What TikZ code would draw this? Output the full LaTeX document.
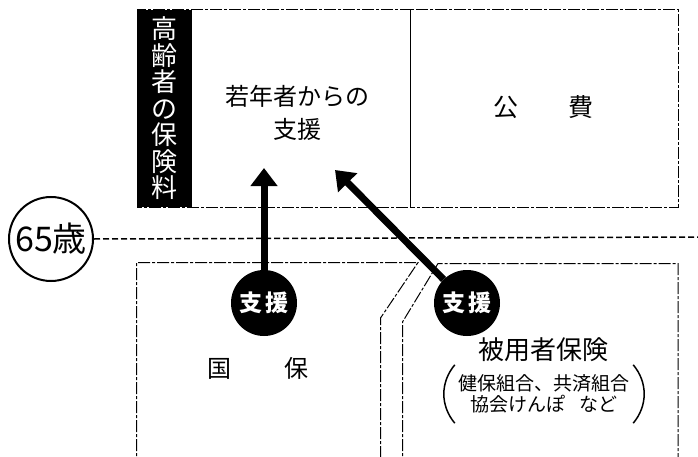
\documentclass[tikz,border=0pt]{standalone}
\usepackage{fontspec}
\setmainfont{Noto Sans CJK JP}
\usetikzlibrary{arrows.meta}

\begin{document}
\begin{tikzpicture}[x=1pt,y=-1pt,
    box/.style={draw,line width=1pt,dash pattern=on 12pt off 2pt on 3pt off 2pt},
    shien/.style={circle,fill=black,text=white,minimum size=66pt,inner sep=0pt,font=\fontsize{23}{23}\selectfont\bfseries},
    support/.style={line width=7pt,-{Triangle[width=26pt,length=18pt]}},
    label/.style={font=\fontsize{24}{33}\selectfont,align=center}]
    \useasboundingbox (0,0) rectangle (698,457);

    \draw[box] (137,10) rectangle (410,207);
    \draw[box] (410,10) rectangle (678,207);
    \draw[box] (136.5,470) -- (136.5,262.5) -- (418,262.5) -- (380.5,318) -- (380.5,470);
    \draw[box] (402.5,470) -- (402.5,322) -- (438,263.5) -- (678,263.5) -- (678,470);

    \node[fill=black,text=white,minimum width=55pt,minimum height=197pt,inner sep=0pt,align=center,font=\fontsize{26}{26.5}\selectfont] (hoken) at (164.5,108.5) {高\\齢\\者\\の\\保\\険\\料};
    \node[label] (jakunen) at (297,113) {若年者からの\\支援};
    \node[label,font=\fontsize{25}{25}\selectfont] (kouhi) at (543,107) {公\hspace{50pt}費};
    \node[label,font=\fontsize{24}{24}\selectfont] (kokuho) at (258,368) {国\hspace{53pt}保};
    \node[label,font=\fontsize{26}{26}\selectfont] (hiyou) at (543,350) {被用者保険};
    \node[label,font=\fontsize{19}{21}\selectfont,minimum width=178pt,minimum height=58pt,inner sep=0pt] (kumiai) at (544,394) {健保組合、共済組合\\協会けんぽ\hspace{0.75em}など};
    \draw[line width=1.5pt] (kumiai.north west) to[bend right=40] (kumiai.south west);
    \draw[line width=1.5pt] (kumiai.north east) to[bend left=40] (kumiai.south east);

    \node[circle,draw,line width=2pt,minimum size=84pt,inner sep=0pt,font=\fontsize{34}{34}\selectfont] (age) at (51,239) {65歳};
    \coordinate (lineend) at (698,237);
    \draw[line width=1.5pt,dash pattern=on 6pt off 3pt] (age.east) -- (lineend);

    \node[shien] (shien1) at (264,303) {支\,援};
    \node[shien] (shien2) at (467,303) {支\,援};
    \coordinate (tip1) at (264,168);
    \coordinate (tip2) at (335,170);
    \draw[support] (shien1) -- (tip1);
    \draw[support] (shien2) -- (tip2);
\end{tikzpicture}
\end{document}
